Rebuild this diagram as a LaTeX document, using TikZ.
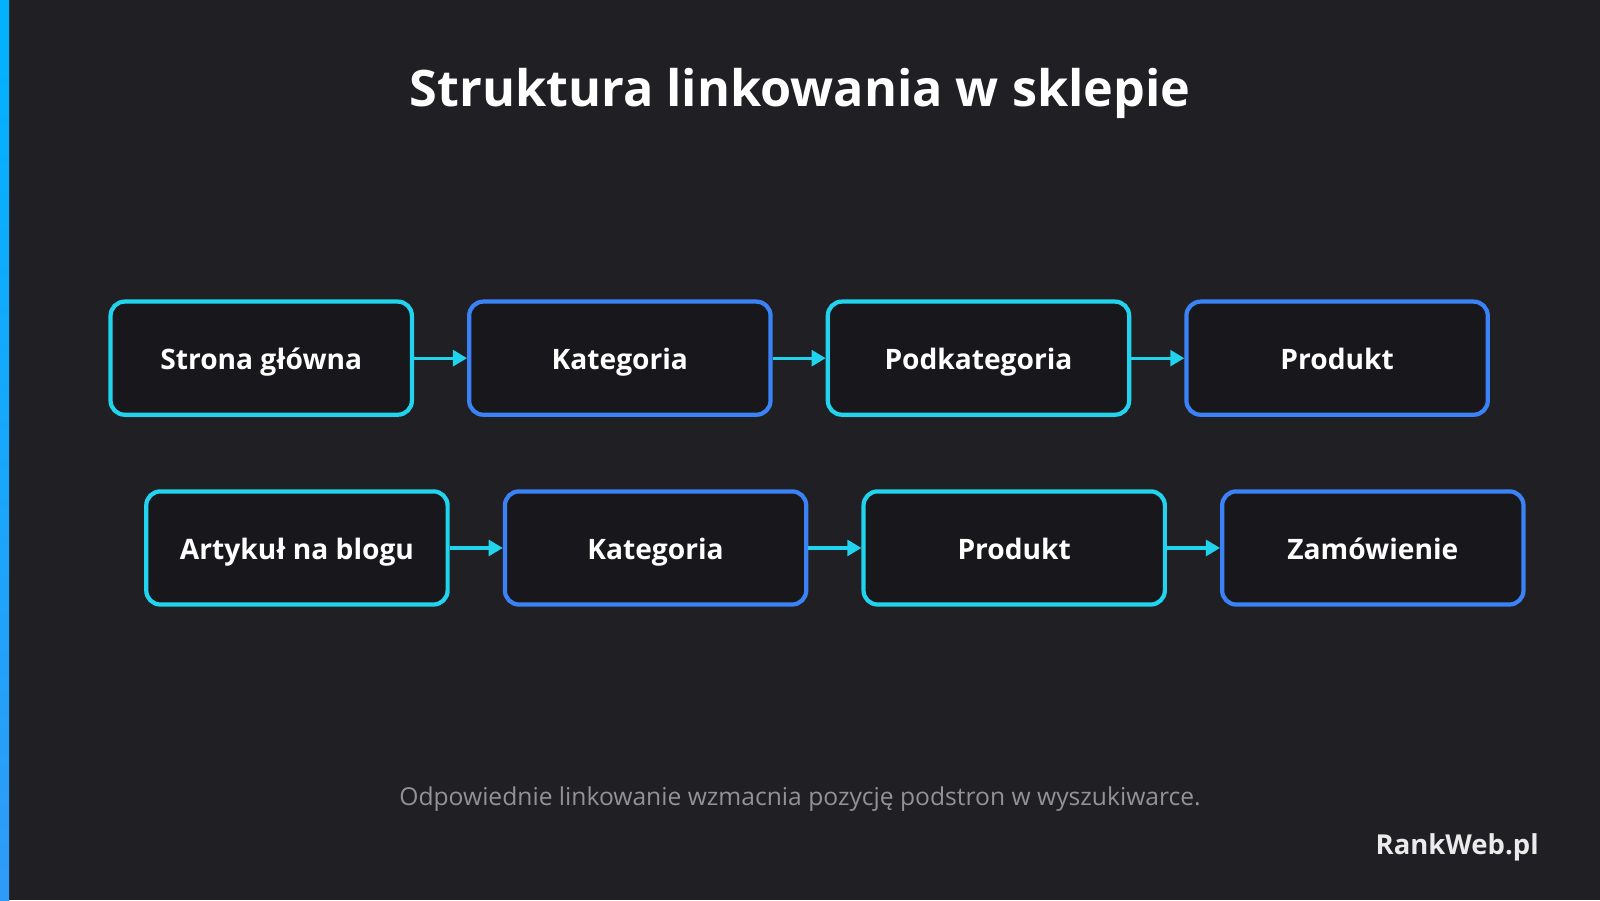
\documentclass[tikz,border=0pt]{standalone}
\usepackage{fontspec}
\setmainfont{Open Sans}
\usetikzlibrary{positioning,arrows.meta}
\definecolor{bgdark}{HTML}{1F1F24}
\definecolor{boxfill}{HTML}{18181C}
\definecolor{tealc}{HTML}{22D3EE}
\definecolor{bluec}{HTML}{3B82F6}
\tikzset{
  step/.style={draw=#1, line width=1.2pt, fill=boxfill, rounded corners=4pt,
    minimum width=3.01cm, minimum height=1.13cm, text=white,
    text height=1.6ex, text depth=0.4ex,
    font=\fontsize{8}{10}\selectfont\bfseries},
  link/.style={draw=tealc, line width=0.9pt, -{Triangle[length=4pt,width=4.5pt]}}
}
\begin{document}
\begin{tikzpicture}[x=0.0102cm,y=-0.0102cm, node distance=0.53cm]
  %Background
  \fill[bgdark] (0,0) rectangle (1568,882);
  \useasboundingbox (0,0) rectangle (1568,882);
  \shade[top color=cyan!70!blue, bottom color=bluec!80!cyan] (0,0) rectangle (9,882);

  %Title
  \node[text=white, font=\fontsize{14.3}{16}\selectfont\bfseries] (title) at (784,92)
    {Struktura linkowania w sklepie};

  %Shop path
  \node[step=tealc] (home) at (256,351) {Strona główna};
  \node[step=bluec, right=of home] (cat) {Kategoria};
  \node[step=tealc, right=of cat] (subcat) {Podkategoria};
  \node[step=bluec, right=of subcat] (prod) {Produkt};

  %Blog path
  \node[step=tealc] (blog) at (291,537) {Artykuł na blogu};
  \node[step=bluec, right=of blog] (blogcat) {Kategoria};
  \node[step=tealc, right=of blogcat] (blogprod) {Produkt};
  \node[step=bluec, right=of blogprod] (order) {Zamówienie};

  \foreach \a/\b in {home/cat, cat/subcat, subcat/prod, blog/blogcat, blogcat/blogprod, blogprod/order}
    \draw[link] (\a) -- (\b);

  %Footer
  \node[text=gray!85, font=\fontsize{7}{8}\selectfont] (note) at (784,783)
    {Odpowiednie linkowanie wzmacnia pozycję podstron w wyszukiwarce.};
  \node[text=white!92!black, font=\fontsize{7.8}{9}\selectfont\bfseries, anchor=east] (brand) at (1520,830)
    {RankWeb.pl};
\end{tikzpicture}
\end{document}
